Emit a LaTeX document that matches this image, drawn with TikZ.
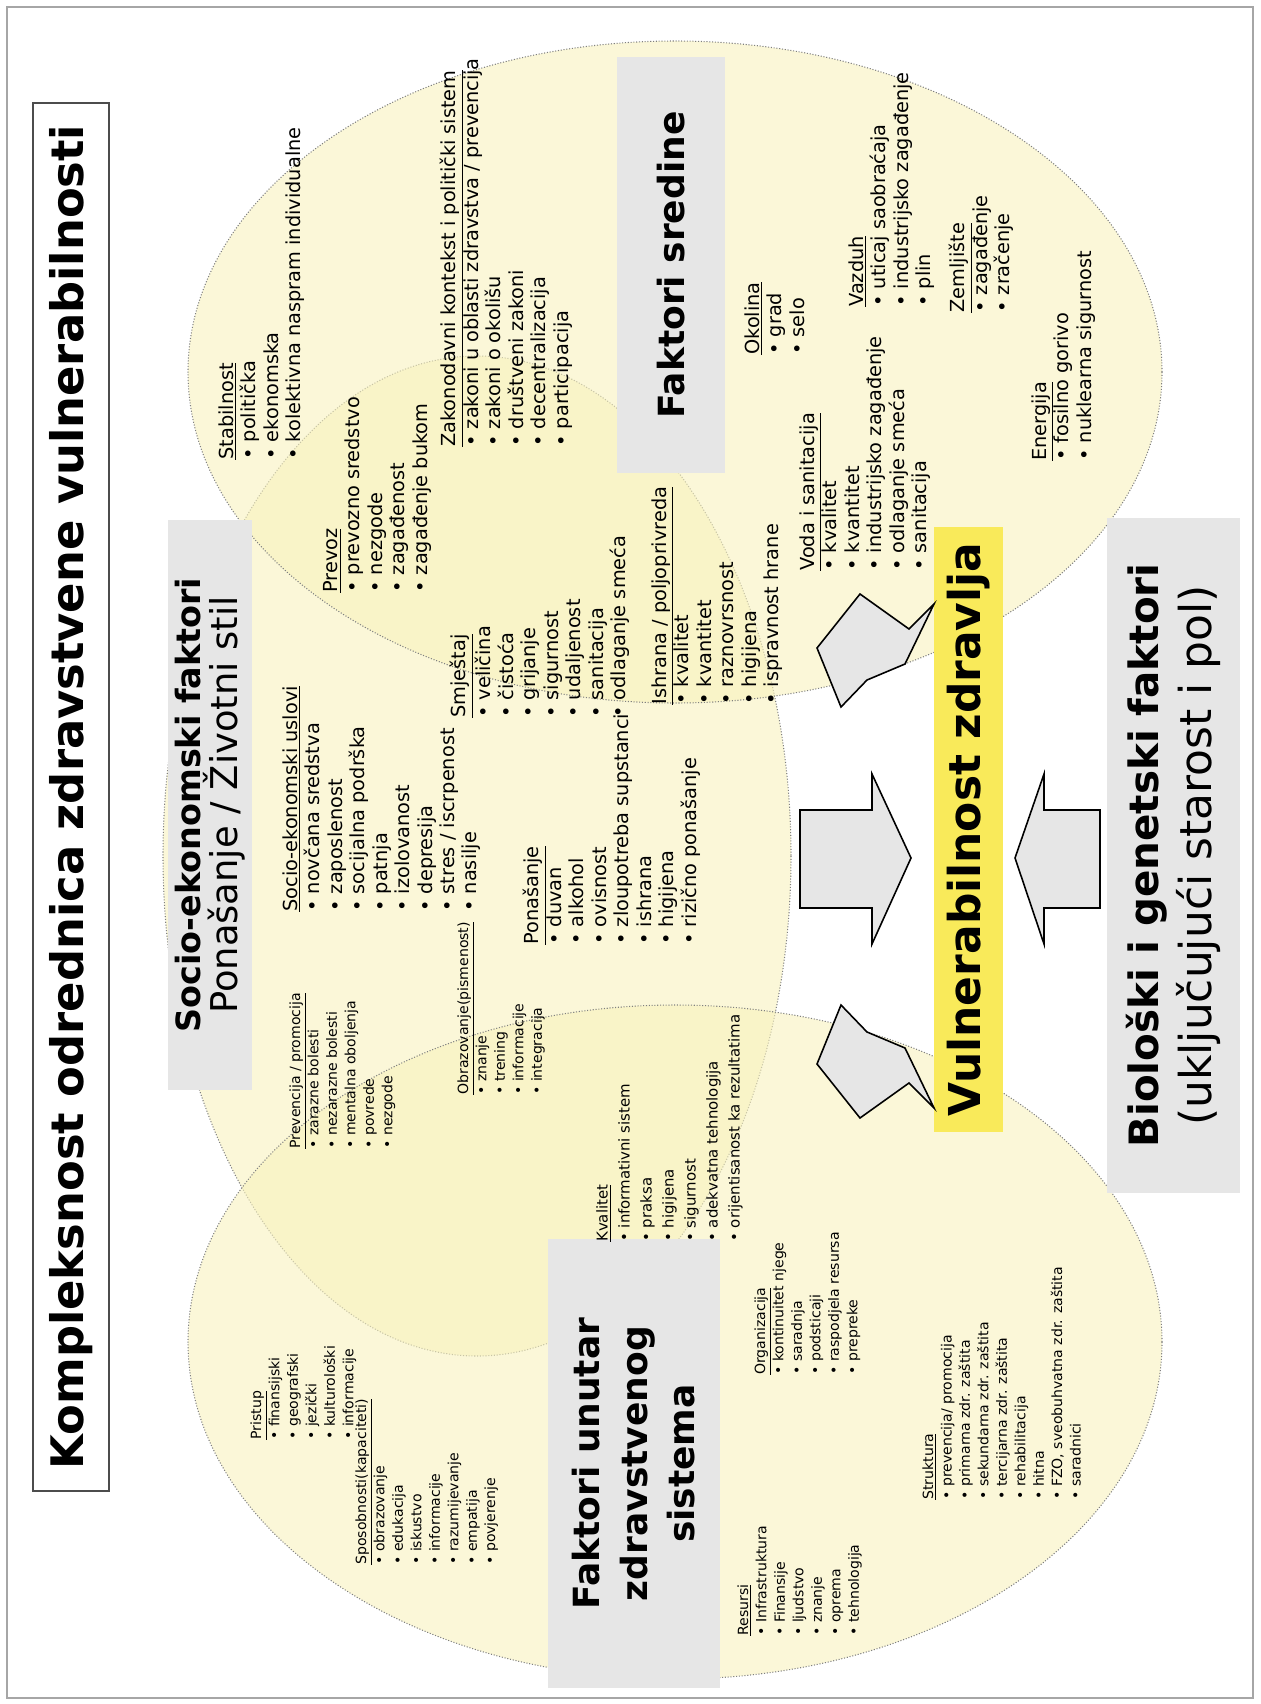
\documentclass[tikz,border=0pt]{standalone}
\usepackage{fontspec}
\setmainfont{DejaVu Sans}
\usetikzlibrary{positioning}
\definecolor{ellfill}{RGB}{248,242,190}
\definecolor{boxgray}{RGB}{230,230,230}
\definecolor{vulnyellow}{RGB}{249,234,90}

\begin{document}
\begin{tikzpicture}[x=0.2mm,y=-0.2mm,
    ell/.style={draw=gray,densely dotted,fill=ellfill,fill opacity=0.6,line width=0.6pt},
    list node/.style={rotate=90,anchor=north west,inner sep=0pt,align=left,font=\fontsize{11}{12.8}\selectfont},
    small list/.style={list node,font=\fontsize{8}{10.5}\selectfont},
    gray box/.style={rotate=90,fill=boxgray,inner sep=0pt,align=center},
    block arrow/.style={draw=black,fill=boxgray,line width=0.9pt,line join=miter}]
  \useasboundingbox (0,0) rectangle (1260,1704);
  \draw[gray!70,line width=1.2pt] (7,7) rectangle (1253,1698);
  \node[rotate=90,draw=black!70,fill=white,line width=0.8pt,minimum width=277.6mm,minimum height=15.2mm,
    font=\fontsize{25.5}{28}\selectfont\bfseries] (title) at (71,797) {Kompleksnost odrednica zdravstvene vulnerabilnosti};
  \begin{scope}
    % the three factor groups
    \path[ell] (477,856) ellipse [x radius=314,y radius=500];
    \path[ell] (675,372) ellipse [x radius=487,y radius=331];
    \path[ell] (675,1342) ellipse [x radius=487,y radius=337];
  \end{scope}
  \node[gray box,minimum width=83.2mm,minimum height=21.6mm,font=\fontsize{20.5}{24}\selectfont\bfseries] (sredina) at (671,265) {Faktori sredine};
  \node[gray box,minimum width=89.8mm,minimum height=34.4mm,font=\fontsize{20.5}{27}\selectfont\bfseries] (sistem) at (634,1463.5) {Faktori unutar\\ zdravstvenog\\ sistema};
  \node[gray box,minimum width=114mm,minimum height=16.8mm,font=\fontsize{19}{21}\selectfont] (socio) at (210,805) {\textbf{Socio-ekonomski faktori}\\ {\fontsize{21}{21}\selectfont Ponašanje / Životni stil}};
  \node[gray box,minimum width=135mm,minimum height=26.6mm,font=\fontsize{23}{30}\selectfont] (bio) at (1173.5,855.5) {\textbf{Biološki i genetski faktori}\\ {\fontsize{25}{30}\selectfont (uključujući starost i pol)}};
  \node[rotate=90,fill=vulnyellow,inner sep=0pt,minimum width=121mm,minimum height=13.8mm,font=\fontsize{25}{28}\selectfont\bfseries] (vuln) at (968.5,829.5) {Vulnerabilnost zdravlja};

  % faktori sredine
  \node[list node] (stabilnost) at (218,460) {\underline{Stabilnost}\\ • politička\\ • ekonomska\\ • kolektivna naspram individualne};
  \node[list node] (prevoz) at (323,593) {\underline{Prevoz}\\ • prevozno sredstvo\\ • nezgode\\ • zagađenost\\ • zagađenje bukom};
  \node[list node] (zakon) at (440,447) {\underline{Zakonodavni kontekst i politički sistem}\\ • zakoni u oblasti zdravstva / prevencija\\ • zakoni o okolišu\\ • društveni zakoni\\ • decentralizacija\\ • participacija};
  \node[list node] (smjestaj) at (450,718) {\underline{Smještaj}\\ • veličina\\ • čistoća\\ • grijanje\\ • sigurnost\\ • udaljenost\\ • sanitacija\\ • odlaganje smeća};
  \node[list node] (ishrana) at (651,705) {\underline{Ishrana / poljoprivreda}\\ • kvalitet\\ • kvantitet\\ • raznovrsnost\\ • higijena\\ • ispravnost hrane};
  \node[list node] (okolina) at (744,355) {\underline{Okolina}\\ • grad\\ • selo};
  \node[list node] (vazduh) at (848,307) {\underline{Vazduh}\\ • uticaj saobraćaja\\ • industrijsko zagađenje\\ • plin};
  \node[list node] (voda) at (799,571) {\underline{Voda i sanitacija}\\ • kvalitet\\ • kvantitet\\ • industrijsko zagađenje\\ • odlaganje smeća\\ • sanitacija};
  \node[list node] (zemljiste) at (949,313) {\underline{Zemljište}\\ • zagađenje\\ • zračenje};
  \node[list node] (energija) at (1031,461) {\underline{Energija}\\ • fosilno gorivo\\ • nuklearna sigurnost};

  % socio-ekonomski faktori
  \node[list node] (uslovi) at (282,912) {\underline{Socio-ekonomski uslovi}\\ • novčana sredstva\\ • zaposlenost\\ • socijalna podrška\\ • patnja\\ • izolovanost\\ • depresija\\ • stres / iscrpenost\\ • nasilje};
  \node[list node] (ponasanje) at (523,945) {\underline{Ponašanje}\\ • duvan\\ • alkohol\\ • ovisnost\\ • zloupotreba supstanci\\ • ishrana\\ • higijena\\ • rizično ponašanje};
  \node[small list] (obrazovanje) at (457,1095) {\underline{Obrazovanje(pismenost)}\\ • znanje\\ • trening\\ • informacije\\ • integracija};

  % faktori unutar zdravstvenog sistema
  \node[small list] (prevencija) at (289,1149) {\underline{Prevencija / promocija}\\ • zarazne bolesti\\ • nezarazne bolesti\\ • mentalna oboljenja\\ • povrede\\ • nezgode};
  \node[small list] (pristup) at (250,1440) {\underline{Pristup}\\ • finansijski\\ • geografski\\ • jezički\\ • kulturološki\\ • informacije};
  \node[small list] (sposobnosti) at (355,1565) {\underline{Sposobnosti(kapaciteti)}\\ • obrazovanje\\ • edukacija\\ • iskustvo\\ • informacije\\ • razumijevanje\\ • empatija\\ • povjerenje};
  \node[small list,font=\fontsize{8.5}{12.5}\selectfont] (kvalitet) at (596,1242) {\underline{Kvalitet}\\ • informativni sistem\\ • praksa\\ • higijena\\ • sigurnost\\ • adekvatna tehnologija\\ • orijentisanost ka rezultatima};
  \node[small list] (organizacija) at (754,1375) {\underline{Organizacija}\\ • kontinuitet njege\\ • saradnja\\ • podsticaji\\ • raspodjela resursa\\ • prepreke};
  \node[small list] (resursi) at (737,1636) {\underline{Resursi}\\ • Infrastruktura\\ • Finansije\\ • ljudstvo\\ • znanje\\ • oprema\\ • tehnologija};
  \node[small list] (struktura) at (922,1500) {\underline{Struktura}\\ • prevencija/ promocija\\ • primarna zdr. zaštita\\ • sekundarna zdr. zaštita\\ • tercijarna zdr. zaštita\\ • rehabilitacija\\ • hitna\\ • FZO, sveobuhvatna zdr. zaštita\\ • saradnici};

  % arrows into vulnerabilnost
  \draw[block arrow] (800,810) -- (872,810) -- (872,774) -- (911,858) -- (872,944) -- (872,908) -- (800,908) -- cycle;
  \draw[block arrow] (1100,810) -- (1044,810) -- (1044,774) -- (1015,858) -- (1044,944) -- (1044,908) -- (1100,908) -- cycle;
  \draw[block arrow] (817,648) -- (860,594) -- (909,629) -- (934,604) -- (905,664) -- (867,680) -- (841,707) -- cycle;
  \draw[block arrow] (817,1064) -- (860,1118) -- (909,1083) -- (934,1108) -- (905,1048) -- (867,1032) -- (841,1005) -- cycle;
\end{tikzpicture}
\end{document}
